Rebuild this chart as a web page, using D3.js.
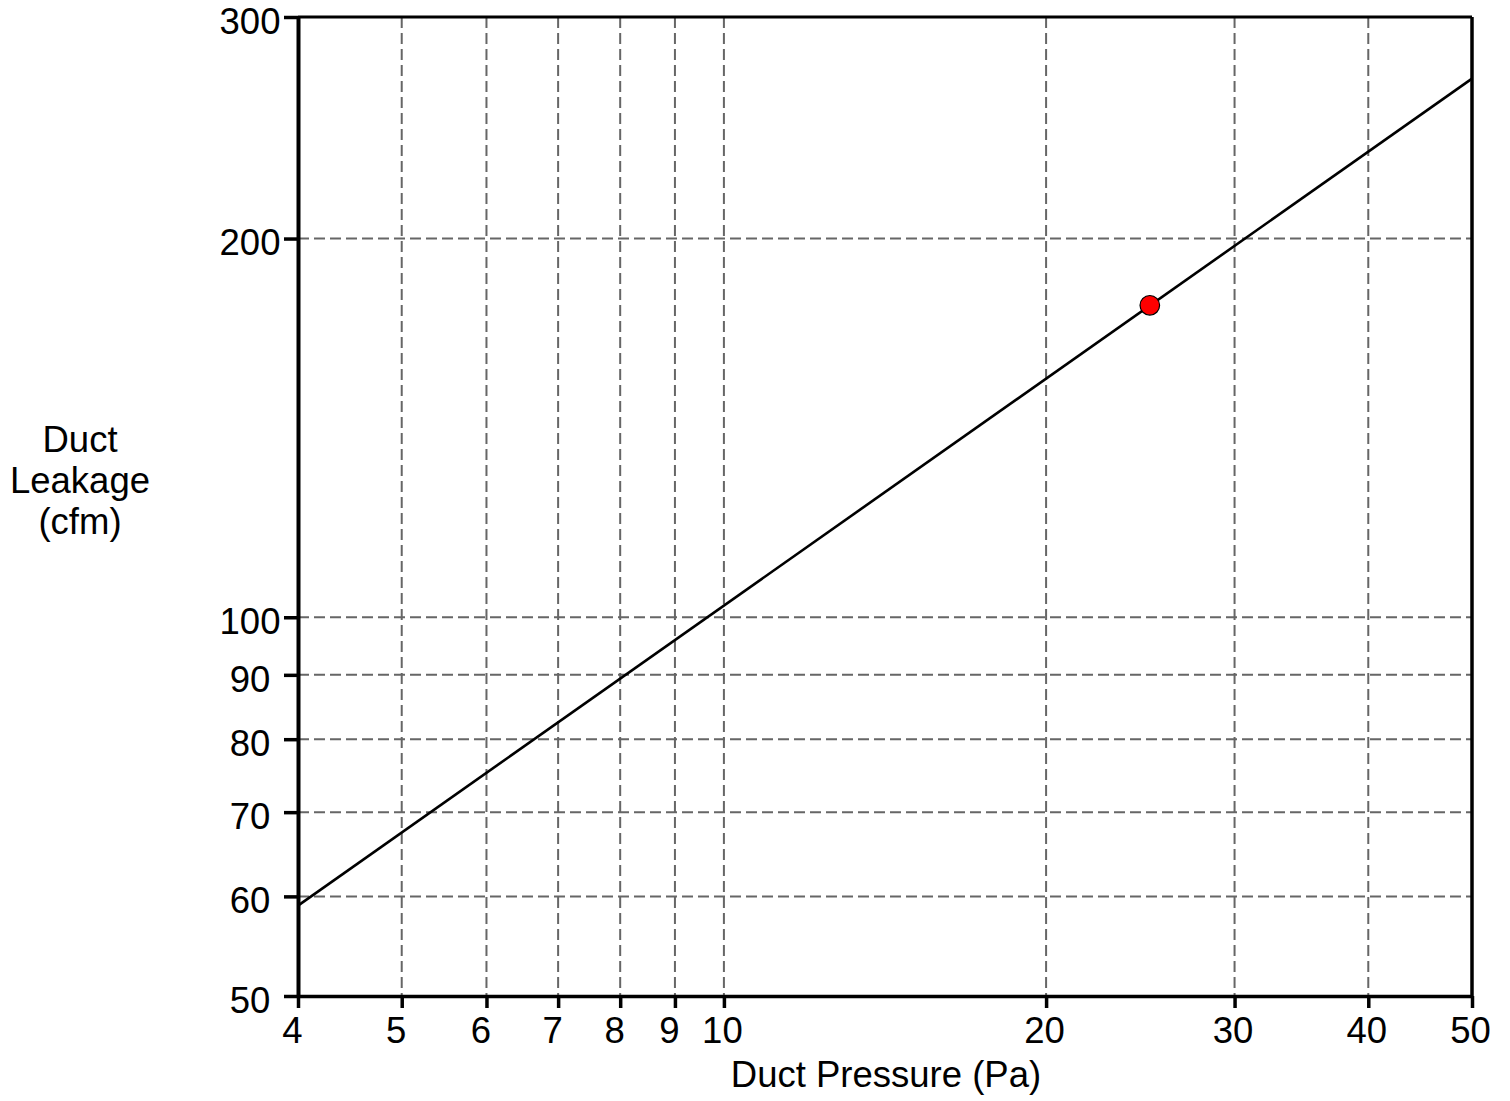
<!DOCTYPE html>
<html><head><meta charset="utf-8">
<script src="https://cdn.jsdelivr.net/npm/d3@7"></script>
<style>body{margin:0;background:#fff}text{font-family:"Liberation Sans",Arial,sans-serif;fill:#000}</style>
</head><body>
<svg id="c" width="1510" height="1101"></svg>
<script>
const xTicks = [4,5,6,7,8,9,10,20,30,40,50];
const xGrid = [5,6,7,8,9,10,20,30,40];
const yTicks = [50,60,70,80,90,100,200,300];
const yGrid = [60,70,80,90,100,200];
const lineData = [{p:4,q:59},{p:50,q:268}];
const pointData = [{p:25,q:177}];

const svg = d3.select("#c");
const L=298,R=1472,T=17,B=996;
const x = d3.scaleLog().domain([4,50]).range([L,R]);
const y = d3.scaleLog().domain([50,300]).range([B,T]);
const FS = 36.5;

const g = svg.append("g");
g.selectAll(".gx").data(xGrid).join("line").attr("x1",d=>x(d)).attr("x2",d=>x(d)).attr("y1",T).attr("y2",B)
 .attr("stroke","#666").attr("stroke-width",2).attr("stroke-dasharray","11,5");
g.selectAll(".gy").data(yGrid).join("line").attr("y1",d=>y(d)).attr("y2",d=>y(d)).attr("x1",L).attr("x2",R)
 .attr("stroke","#666").attr("stroke-width",2).attr("stroke-dasharray","11,5");

// line
svg.append("path").datum(lineData).attr("d",d3.line().x(d=>x(d.p)).y(d=>y(d.q)))
 .attr("stroke","#000").attr("stroke-width",2.6).attr("fill","none");

// frame
svg.append("line").attr("x1",L).attr("x2",R).attr("y1",T).attr("y2",T).attr("stroke","#000").attr("stroke-width",3);
svg.append("line").attr("x1",R).attr("x2",R).attr("y1",T).attr("y2",B).attr("stroke","#000").attr("stroke-width",3.5);

const xa = svg.append("g").attr("transform",`translate(0,${B})`)
 .call(d3.axisBottom(x).tickValues(xTicks).tickFormat(d3.format("d")).tickSizeInner(12).tickSizeOuter(0).tickPadding(9));
xa.select(".domain").attr("stroke-width",3.5);
xa.selectAll(".tick line").attr("stroke-width",3.5);
xa.selectAll("text").attr("font-size",FS).style("font-family","Liberation Sans, Arial, sans-serif").attr("dx",d=>d<10?-6:-2);

const ya = svg.append("g").attr("transform",`translate(${L},0)`)
 .call(d3.axisLeft(y).tickValues(yTicks).tickFormat(d3.format("d")).tickSizeInner(14).tickSizeOuter(0).tickPadding(5));
ya.select(".domain").attr("stroke-width",4);
ya.selectAll(".tick line").attr("stroke-width",3.5);
ya.selectAll("text").attr("font-size",FS).style("font-family","Liberation Sans, Arial, sans-serif")
 .attr("dy","0.45em").attr("text-anchor","middle").attr("x",-48);

// point
svg.selectAll(".pt").data(pointData).join("circle").attr("cx",d=>x(d.p)).attr("cy",d=>y(d.q)).attr("r",9.8)
 .attr("fill","#ff0000").attr("stroke","#000").attr("stroke-width",1.2);

// titles
svg.append("text").attr("x",886).attr("y",1087).attr("text-anchor","middle").attr("font-size",FS).text("Duct Pressure (Pa)");
const yt = svg.append("text").attr("text-anchor","middle").attr("font-size",FS);
["Duct","Leakage","(cfm)"].forEach((s,i)=>yt.append("tspan").attr("x",80).attr("y",452+i*41).text(s));
</script>
</body></html>
